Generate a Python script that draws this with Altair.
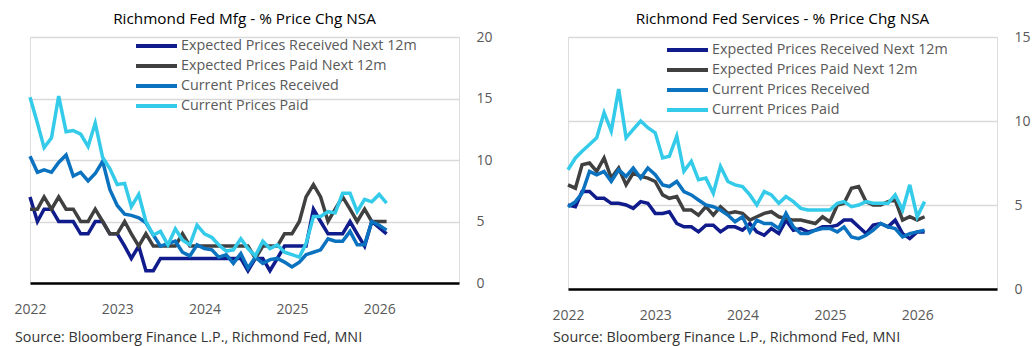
import altair as alt
import pandas as pd

# ---------------- data ----------------
dates = pd.date_range("2022-01-01", periods=50, freq="MS").strftime("%Y-%m-%d").tolist()
year_ticks = [2022, 2023, 2024, 2025, 2026]

series_names = [
    "Expected Prices Received Next 12m",
    "Expected Prices Paid Next 12m",
    "Current Prices Received",
    "Current Prices Paid",
]
series_colors = ["#111c8c", "#404040", "#0b72c0", "#33cbe9"]

# Manufacturing
mfg_exp_received = [7, 5, 6, 6, 5, 5, 5, 4, 4, 5, 5, 4, 4, 3, 2, 3, 1,
                    1, 2, 2, 2, 2, 2, 2, 2, 2, 2, 2, 2, 2, 1, 2, 2, 1, 2,
                    3, 3, 3, 3, 6, 5, 4, 4, 4, 5, 4, 3, 5, 4.5, 4]
mfg_exp_paid = [6, 6, 7, 6, 7, 6, 6, 5, 5, 6, 5, 4, 4, 5, 4, 3, 4,
                3, 3, 3, 3, 4, 3, 3, 3, 3, 3, 3, 3, 3, 3, 2,
                3, 3, 3, 4, 4, 5, 7, 8, 7, 5, 6, 7, 6, 5, 6, 5, 5, 5]
mfg_cur_received = [10.3, 9.0, 9.2, 9.0, 9.8, 10.4, 8.7, 9.0, 8.3, 8.9, 9.9, 7.6, 6.3, 5.6, 5.5, 5.3, 4.9,
                    3.9, 3.0, 3.2, 3.4, 2.5, 2.2, 3.1, 2.8, 2.7, 2.1, 2.3, 1.6, 2.4, 1.2, 2.1,
                    1.6, 1.9, 2.0, 1.7, 1.3, 1.7, 2.3, 2.5, 2.7, 3.6, 3.4, 3.4, 4.2, 3.1, 3.1, 5.0, 4.7, 4.3]
mfg_cur_paid = [15.1, 13.0, 11.0, 11.8, 15.2, 12.3, 12.4, 12.1, 11.1, 13.0, 10.2, 9.3, 8.0, 8.1, 6.2, 7.2, 5.0,
                3.9, 4.2, 3.1, 4.4, 3.5, 3.1, 4.7, 4.0, 3.7, 3.1, 2.6, 2.7, 3.6, 2.8, 2.2,
                3.4, 2.8, 3.1, 2.5, 2.3, 2.1, 3.2, 5.4, 5.4, 5.8, 5.7, 7.3, 7.3, 5.8, 6.8, 6.6, 7.2, 6.5]

# Services
svc_exp_received = [5.0, 4.9, 5.8, 5.8, 5.4, 5.4, 5.1, 5.1, 5.0, 4.8, 5.2, 5.1, 4.5, 4.5, 4.6, 3.9, 3.7,
                    3.7, 3.4, 3.8, 3.8, 3.4, 3.7, 3.7, 3.5, 3.9, 3.4, 3.2, 3.6, 3.3, 4.1, 3.5,
                    3.6, 3.4, 3.5, 3.7, 3.7, 3.8, 4.1, 4.1, 3.7, 3.3, 3.8, 3.9, 3.7, 4.1, 3.3, 3.0, 3.4, 3.4]
svc_exp_paid = [6.2, 6.0, 7.4, 7.5, 7.0, 7.8, 6.6, 7.2, 6.2, 6.9, 6.7, 6.6, 6.4, 5.6, 5.4, 5.5, 4.7,
                4.7, 4.4, 4.9, 4.4, 4.9, 4.5, 4.6, 4.5, 4.1, 4.3, 4.5, 4.6, 4.3, 4.2,
                4.1, 4.1, 4.0, 3.9, 4.3, 4.0, 5.0, 5.1, 6.0, 6.1, 5.2, 5.0, 5.0, 5.2, 5.3, 4.1, 4.3, 4.1, 4.3]
svc_cur_received = [4.9, 5.2, 5.7, 7.0, 6.8, 7.0, 6.4, 7.1, 6.7, 7.2, 6.6, 7.2, 6.8, 6.2, 6.1, 6.4, 5.8,
                    5.6, 5.3, 5.0, 4.9, 4.7, 4.4, 4.0, 4.3, 3.4, 4.1, 3.9, 3.9, 3.6, 4.5, 3.7,
                    3.3, 3.3, 3.5, 3.6, 3.6, 3.4, 3.7, 3.1, 3.0, 3.2, 3.5, 3.9, 3.7, 3.6, 3.1, 3.3, 3.4, 3.5]
svc_cur_paid = [7.1, 7.8, 8.2, 8.6, 9.0, 10.5, 9.4, 11.9, 9.0, 9.5, 10.0, 9.6, 9.3, 7.8, 7.9, 9.1, 7.0,
                7.6, 6.5, 6.6, 5.7, 7.3, 6.4, 6.2, 6.1, 5.6, 5.0, 5.8, 5.6, 5.1, 5.5,
                5.2, 4.8, 4.7, 4.7, 4.7, 4.7, 5.1, 5.2, 4.9, 5.0, 5.2, 5.1, 5.1, 5.1, 5.6, 4.7, 6.2, 4.3, 5.2]

source_text = "Source: Bloomberg Finance L.P., Richmond Fed, MNI"

FONT = "Open Sans"
LABEL_COLOR = "#595959"


def panel(title, values_list, y_max, y_ticks, height, legend_x, legend_y, source_dy):
    width = 429
    x_enc = alt.X(
        "date:T",
        scale=alt.Scale(type="utc", domain=[alt.DateTime(year=2022, month=1, date=1, utc=True),
                                            alt.DateTime(year=2026, month=12, date=1, utc=True)]),
        axis=alt.Axis(
            values=[alt.DateTime(year=y, month=1, date=1, utc=True) for y in year_ticks],
            format="%Y", title=None, grid=False, ticks=False, labelFlush=False,
            domainColor="black", domainWidth=2.5, labelFontSize=14, labelColor=LABEL_COLOR,
            labelFont=FONT, labelPadding=19, zindex=1,
        ),
    )
    y_enc = alt.Y(
        "value:Q",
        scale=alt.Scale(domain=[0, y_max], nice=False),
        axis=alt.Axis(
            orient="right", values=y_ticks, title=None, grid=True, gridColor="#d9d9d9",
            gridWidth=1.5, domain=False, ticks=False, labelPadding=17, labelFontSize=14,
            labelColor=LABEL_COLOR, labelFont=FONT,
        ),
    )
    layers = []
    for name, color, vals in zip(series_names, series_colors, values_list):
        df = pd.DataFrame({"date": dates, "value": vals, "series": name})
        layers.append(
            alt.Chart(df).mark_line(color=color, strokeWidth=3.5, strokeJoin="miter").encode(x=x_enc, y=y_enc)
        )
    for i, (name, color) in enumerate(zip(series_names, series_colors)):
        ldf = pd.DataFrame({"label": [name]})
        layers.append(
            alt.Chart(ldf).mark_rule(color=color, strokeWidth=4).encode(
                x=alt.value(legend_x), x2=alt.value(legend_x + 41), y=alt.value(legend_y + 20 * i)
            )
        )
        layers.append(
            alt.Chart(ldf).mark_text(align="left", baseline="middle", fontSize=14.3, color=LABEL_COLOR, font=FONT).encode(
                x=alt.value(legend_x + 45), y=alt.value(legend_y + 20 * i), text="label:N"
            )
        )
    sdf = pd.DataFrame({"src": [source_text]})
    layers.append(
        alt.Chart(sdf).mark_text(align="left", baseline="middle", fontSize=14.3, color="#333333", font=FONT).encode(
            x=alt.value(-15), y=alt.value(height + source_dy), text="src:N"
        )
    )
    return alt.layer(*layers).properties(
        width=width, height=height,
        title=alt.TitleParams(title, fontSize=15.3, color="black", font=FONT, fontWeight="normal",
                              anchor="middle", offset=3),
    )


left = panel("Richmond Fed Mfg - % Price Chg NSA",
             [mfg_exp_received, mfg_exp_paid, mfg_cur_received, mfg_cur_paid],
             20, [0, 5, 10, 15, 20], 246, 106, 9, 55)
right = panel("Richmond Fed Services - % Price Chg NSA",
              [svc_exp_received, svc_exp_paid, svc_cur_received, svc_cur_paid],
              15, [0, 5, 10, 15], 252, 99, 13, 49)

chart = alt.hconcat(left, right, spacing=58).properties(
    padding={"left": 13, "top": 11, "right": 0, "bottom": 0}
).configure_view(stroke=None).configure(background="white")

chart.save("out.html", embed_options={"renderer": "svg", "actions": False})
